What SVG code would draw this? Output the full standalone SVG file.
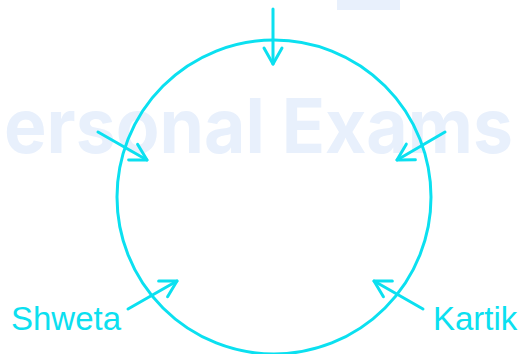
<svg xmlns="http://www.w3.org/2000/svg" width="520" height="354" viewBox="0 0 520 354">
  <style>
    .wm { fill: #E8F0FC; font-family: "Inter", "Open Sans", "DejaVu Sans", sans-serif; font-weight: 700; font-size: 76px; }
    .ln { stroke: #0BE0F0; stroke-width: 3; fill: none; stroke-linecap: round; }
    .lbl { fill: #0BE0F0; font-family: "Liberation Sans", Arial, sans-serif; font-size: 33px; }
  </style>
  <defs>
    <marker id="ah" markerUnits="userSpaceOnUse" markerWidth="24" markerHeight="24" viewBox="-20 -12 24 24" refX="0" refY="0" orient="auto" overflow="visible">
      <path d="M-16,-9 L0,0 L-16,9" fill="none" stroke="#0BE0F0" stroke-width="3" stroke-linecap="round" stroke-linejoin="round"/>
    </marker>
  </defs>
  <rect width="520" height="354" fill="#FFFFFF"/>
  <g id="watermark">
    <rect x="337" y="0" width="63" height="10" fill="#E8F0FC"/>
    <text class="wm" transform="translate(4,153) scale(0.94,1)" x="0" y="0">ersonal Exams</text>
  </g>
  <g id="circle">
    <circle class="ln" cx="274" cy="197" r="157"/>
  </g>
  <g id="connectors">
    <line class="ln" x1="273" y1="9" x2="273" y2="64" marker-end="url(#ah)"/>
    <line class="ln" x1="98" y1="132" x2="147" y2="160" marker-end="url(#ah)"/>
    <line class="ln" x1="445" y1="132" x2="397" y2="160" marker-end="url(#ah)"/>
    <line class="ln" x1="128" y1="309" x2="177" y2="281" marker-end="url(#ah)"/>
    <line class="ln" x1="423" y1="309" x2="374" y2="281" marker-end="url(#ah)"/>
  </g>
  <g id="label-shweta">
    <text class="lbl" x="11" y="330">Shweta</text>
  </g>
  <g id="label-kartik">
    <text class="lbl" x="433" y="330">Kartik</text>
  </g>
</svg>
